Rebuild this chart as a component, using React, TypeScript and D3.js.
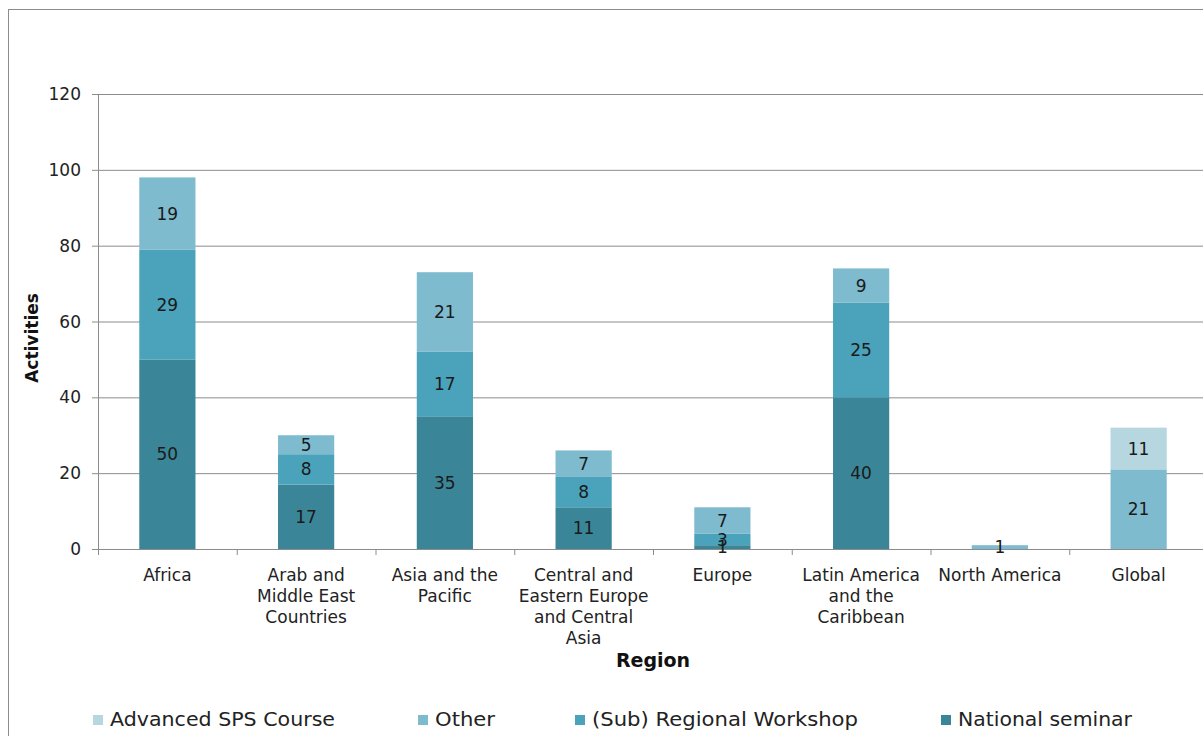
import React from "react";
import * as d3 from "d3";

const categories = [
  ["Africa"],
  ["Arab and", "Middle East", "Countries"],
  ["Asia and the", "Pacific"],
  ["Central and", "Eastern Europe", "and Central", "Asia"],
  ["Europe"],
  ["Latin America", "and the", "Caribbean"],
  ["North America"],
  ["Global"],
];
const nationalSeminar = [50, 17, 35, 11, 1, 40, 0, 0];
const subRegional = [29, 8, 17, 8, 3, 25, 0, 0];
const other = [19, 5, 21, 7, 7, 9, 1, 21];
const advancedSPS = [0, 0, 0, 0, 0, 0, 0, 11];
const yTicks = [0, 20, 40, 60, 80, 100, 120];

const seriesList = [
  { name: "National seminar", values: nationalSeminar, color: "#3a8698" },
  { name: "(Sub) Regional Workshop", values: subRegional, color: "#4aa3ba" },
  { name: "Other", values: other, color: "#7fbbcf" },
  { name: "Advanced SPS Course", values: advancedSPS, color: "#b6d6e0" },
];
const legendOrder = ["Advanced SPS Course", "Other", "(Sub) Regional Workshop", "National seminar"];
const legendTextX = [110, 435, 592, 958];
const legendTextW = [225, 60, 266, 174];

const W = 1203, H = 736;
const left = 98, right = 1208, top = 94, bottom = 549;
const font = "'DejaVu Sans', Verdana, sans-serif";

export default function App() {
  const idx = categories.map((_, i) => i);
  const x = d3.scaleBand<number>().domain(idx).range([left, right]).paddingInner(0).paddingOuter(0);
  const y = d3.scaleLinear().domain([0, 120]).range([bottom, top]);
  const bw = x.bandwidth() * 0.405;

  const stackData = idx.map((i) => {
    const o: any = { i };
    seriesList.forEach((s) => (o[s.name] = s.values[i]));
    return o;
  });
  const stacked = d3.stack<any>().keys(seriesList.map((s) => s.name))(stackData);

  return (
    <svg width={W} height={H} style={{ position: "absolute", left: 0, top: 0, background: "#fff" }} fontFamily={font}>
      <rect x={8.5} y={9.5} width={W + 10} height={H + 10} fill="none" stroke="#8c8c8c" strokeWidth={1} />
      {yTicks.map((t) => (
        <g key={t}>
          {t > 0 && <line x1={left} x2={W} y1={y(t) + 0.5} y2={y(t) + 0.5} stroke="#8c8c8c" />}
          <line x1={left - 6} x2={left} y1={y(t) + 0.5} y2={y(t) + 0.5} stroke="#8c8c8c" />
          <text x={left - 17} y={y(t)} dy="0.36em" textAnchor="end" fontSize={17} fill="#222">{t}</text>
        </g>
      ))}
      <line x1={left + 0.5} x2={left + 0.5} y1={top} y2={bottom} stroke="#8c8c8c" />
      {stacked.map((layer, li) => (
        <g key={layer.key}>
          {layer.map((d, i) => {
            const v = d[1] - d[0];
            if (v <= 0) return null;
            const cx = (x(i) as number) + x.bandwidth() / 2;
            return (
              <rect key={i} x={cx - bw / 2} width={bw} y={y(d[1])} height={y(d[0]) - y(d[1])} fill={seriesList[li].color} />
            );
          })}
        </g>
      ))}
      <line x1={left} x2={W} y1={bottom + 0.5} y2={bottom + 0.5} stroke="#8c8c8c" />
      {idx.map((i) => (
        <line key={i} x1={(x(i) as number) + 0.5} x2={(x(i) as number) + 0.5} y1={bottom} y2={bottom + 6} stroke="#8c8c8c" />
      ))}
      {stacked.map((layer, li) => (
        <g key={"l" + layer.key}>
          {layer.map((d, i) => {
            const v = d[1] - d[0];
            if (v <= 0) return null;
            const cx = (x(i) as number) + x.bandwidth() / 2;
            return (
              <text key={i} x={cx} y={(y(d[0]) + y(d[1])) / 2} dy="0.36em" textAnchor="middle" fontSize={17} fill="#1a1a1a">{v}</text>
            );
          })}
        </g>
      ))}
      {categories.map((lines, i) => (
        <text key={i} textAnchor="middle" fontSize={17} fill="#222">
          {lines.map((l, k) => (
            <tspan key={k} x={(x(i) as number) + x.bandwidth() / 2} y={581 + k * 21}>{l}</tspan>
          ))}
        </text>
      ))}
      <text x={653} y={667} textAnchor="middle" fontSize={19} fontWeight="bold" fill="#111">Region</text>
      <text transform="translate(38,338) rotate(-90)" textAnchor="middle" fontSize={17} fontWeight="bold" fill="#111">Activities</text>
      {legendOrder.map((name, k) => {
        const s = seriesList.find((q) => q.name === name)!;
        return (
          <g key={name}>
            <rect x={legendTextX[k] - 17} y={715} width={10} height={10} fill={s.color} />
            <text x={legendTextX[k]} y={726} fontSize={20} fill="#222" textLength={legendTextW[k]} lengthAdjust="spacingAndGlyphs">{name}</text>
          </g>
        );
      })}
    </svg>
  );
}
